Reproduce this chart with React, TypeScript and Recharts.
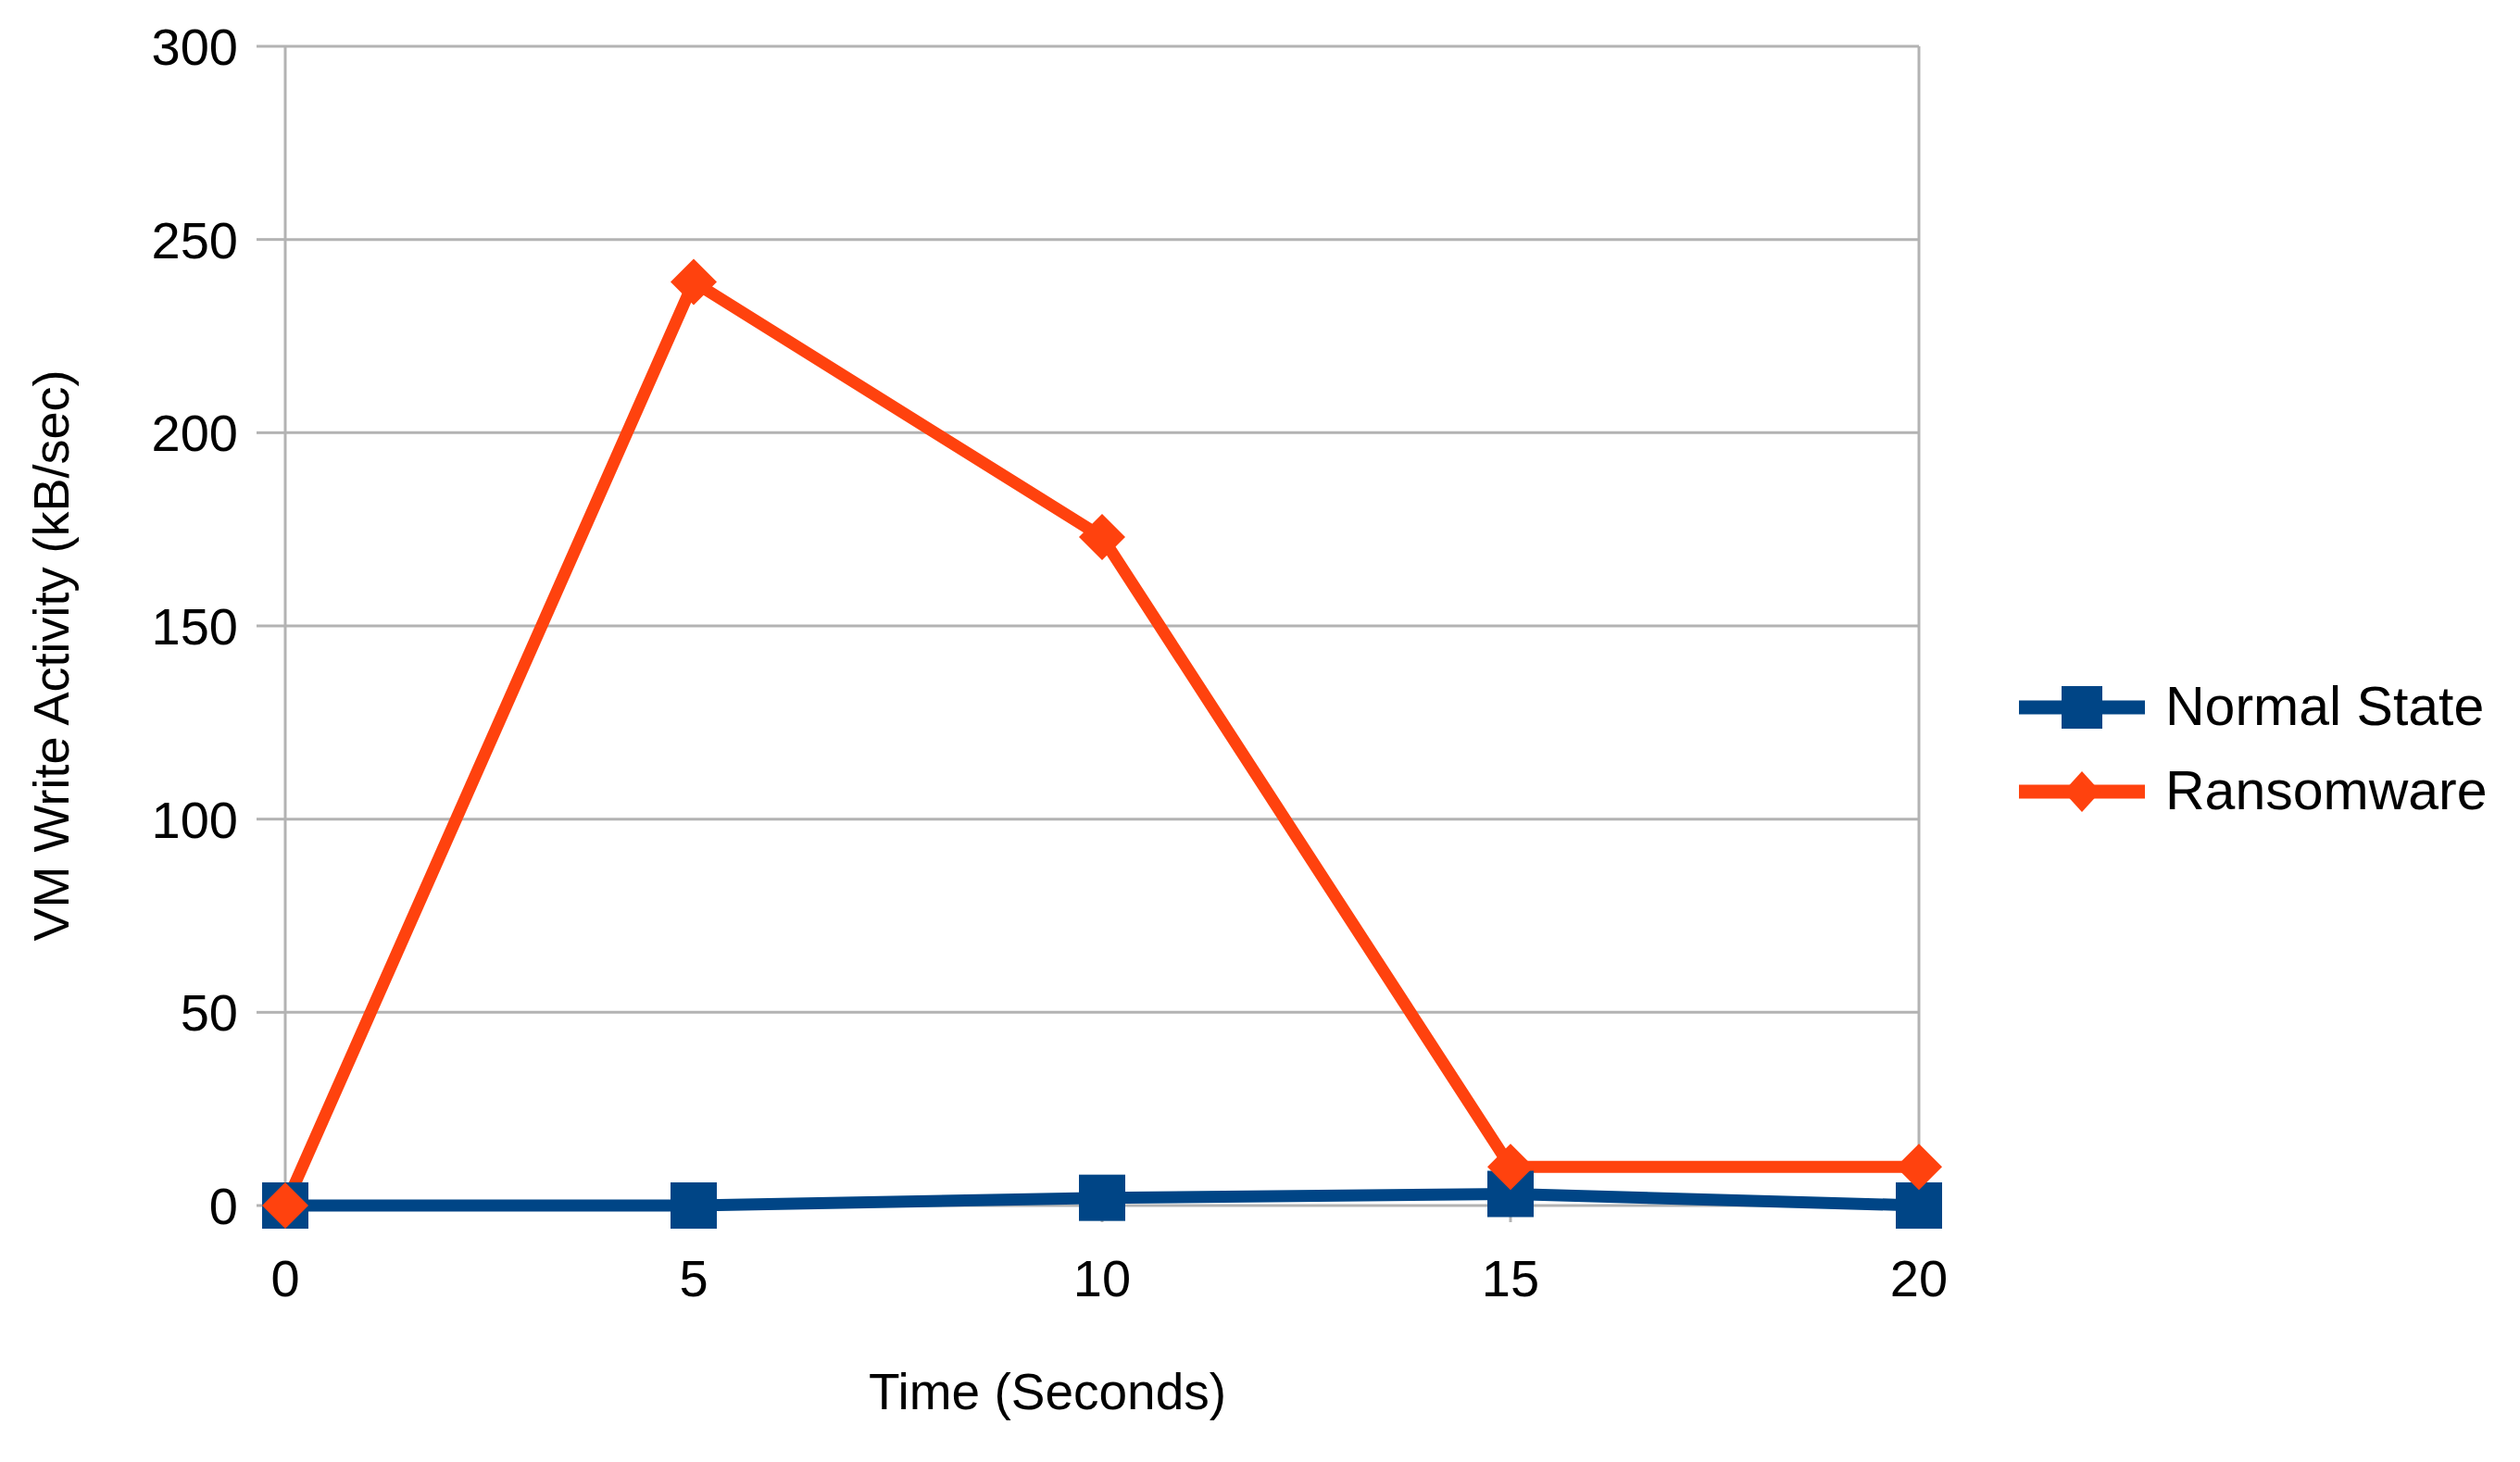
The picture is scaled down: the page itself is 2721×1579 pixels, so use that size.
import { LineChart, Line, XAxis, YAxis, CartesianGrid, Legend } from "recharts";

// values
const times = [0, 5, 10, 15, 20];
const normalState = [0, 0, 2, 3, 0];
const ransomware = [0, 239, 173, 10, 10];
const yTicks = [0, 50, 100, 150, 200, 250, 300];
const seriesNames = ["Normal State", "Ransomware"];

const data = times.map((t, i) => ({
  time: t,
  normal: normalState[i],
  ransomware: ransomware[i],
}));

const BLUE = "#004586";
const ORANGE = "#ff420e";
const GRID = "#b3b3b3";
const FONT = "'Liberation Sans', Arial, sans-serif";

const SquareDot = (props: any) => {
  const { cx, cy } = props;
  if (cx == null || cy == null) return null;
  return <rect x={cx - 25} y={cy - 25} width={50} height={50} fill={BLUE} />;
};

const DiamondDot = (props: any) => {
  const { cx, cy } = props;
  if (cx == null || cy == null) return null;
  const r = 25;
  return (
    <path
      d={`M${cx},${cy - r}L${cx + r},${cy}L${cx},${cy + r}L${cx - r},${cy}Z`}
      fill={ORANGE}
    />
  );
};

const XTitle = (props: any) => {
  const vb = props.viewBox || {};
  return (
    <text
      x={vb.x + vb.width / 2 - 59}
      y={vb.y + 220}
      textAnchor="middle"
      fontFamily={FONT}
      fontSize={55}
      fill="#000"
    >
      Time (Seconds)
    </text>
  );
};

const YTitle = (props: any) => {
  const vb = props.viewBox || {};
  const cx = vb.x + vb.width - 253;
  const cy = vb.y + vb.height / 2 + 32;
  return (
    <text
      x={cx}
      y={cy}
      dy="0.35em"
      transform={`rotate(-90, ${cx}, ${cy})`}
      textAnchor="middle"
      fontFamily={FONT}
      fontSize={54}
      fill="#000"
    >
      VM Write Activity (kB/sec)
    </text>
  );
};

const LegendBox = () => (
  <div style={{ fontFamily: FONT, fontSize: 59, color: "#000" }}>
    {seriesNames.map((name, i) => (
      <div key={name} style={{ display: "flex", alignItems: "center", height: 91 }}>
        <svg width={136} height={60}>
          <line x1={0} y1={30} x2={136} y2={30} stroke={i === 0 ? BLUE : ORANGE} strokeWidth={15} />
          {i === 0 ? (
            <rect x={46} y={7} width={44} height={46} fill={BLUE} />
          ) : (
            <path d="M68,8L88,30L68,52L48,30Z" fill={ORANGE} />
          )}
        </svg>
        <span style={{ marginLeft: 22, whiteSpace: "nowrap", lineHeight: 1 }}>{name}</span>
      </div>
    ))}
  </div>
);

export default function App() {
  return (
    <div style={{ width: 2721, height: 1579, background: "#fff" }}>
      <style>{"body{margin:0}"}</style>
      <LineChart
        width={2721}
        height={1579}
        data={data}
        margin={{ top: 50, right: 649, left: 108, bottom: 77 }}
      >
        <CartesianGrid
          horizontal
          vertical
          verticalCoordinatesGenerator={({ offset }: any) => [offset.left, offset.left + offset.width]}
          stroke={GRID}
          strokeWidth={3}
        />
        <XAxis
          dataKey="time"
          type="number"
          domain={[0, 20]}
          ticks={times}
          height={200}
          axisLine={false}
          tickLine={{ stroke: GRID, strokeWidth: 3 }}
          tickSize={18}
          tickMargin={40}
          tick={{ fontFamily: FONT, fontSize: 56, fill: "#000" }}
          label={{ content: (p: any) => <XTitle {...p} /> }}
        />
        <YAxis
          domain={[0, 300]}
          ticks={yTicks}
          width={200}
          axisLine={false}
          tickLine={{ stroke: GRID, strokeWidth: 3 }}
          tickSize={31}
          tickMargin={20}
          tick={{ fontFamily: FONT, fontSize: 56, fill: "#000" }}
          label={{ content: (p: any) => <YTitle {...p} /> }}
        />
        <Legend
          layout="horizontal"
          verticalAlign="middle"
          align="center"
          content={() => <LegendBox />}
          wrapperStyle={{ left: 2180, top: 718, width: 530 }}
        />
        <Line
          dataKey="normal"
          name={seriesNames[0]}
          stroke={BLUE}
          strokeWidth={13}
          dot={<SquareDot />}
          activeDot={false}
          isAnimationActive={false}
        />
        <Line
          dataKey="ransomware"
          name={seriesNames[1]}
          stroke={ORANGE}
          strokeWidth={13}
          dot={<DiamondDot />}
          activeDot={false}
          isAnimationActive={false}
        />
      </LineChart>
    </div>
  );
}
